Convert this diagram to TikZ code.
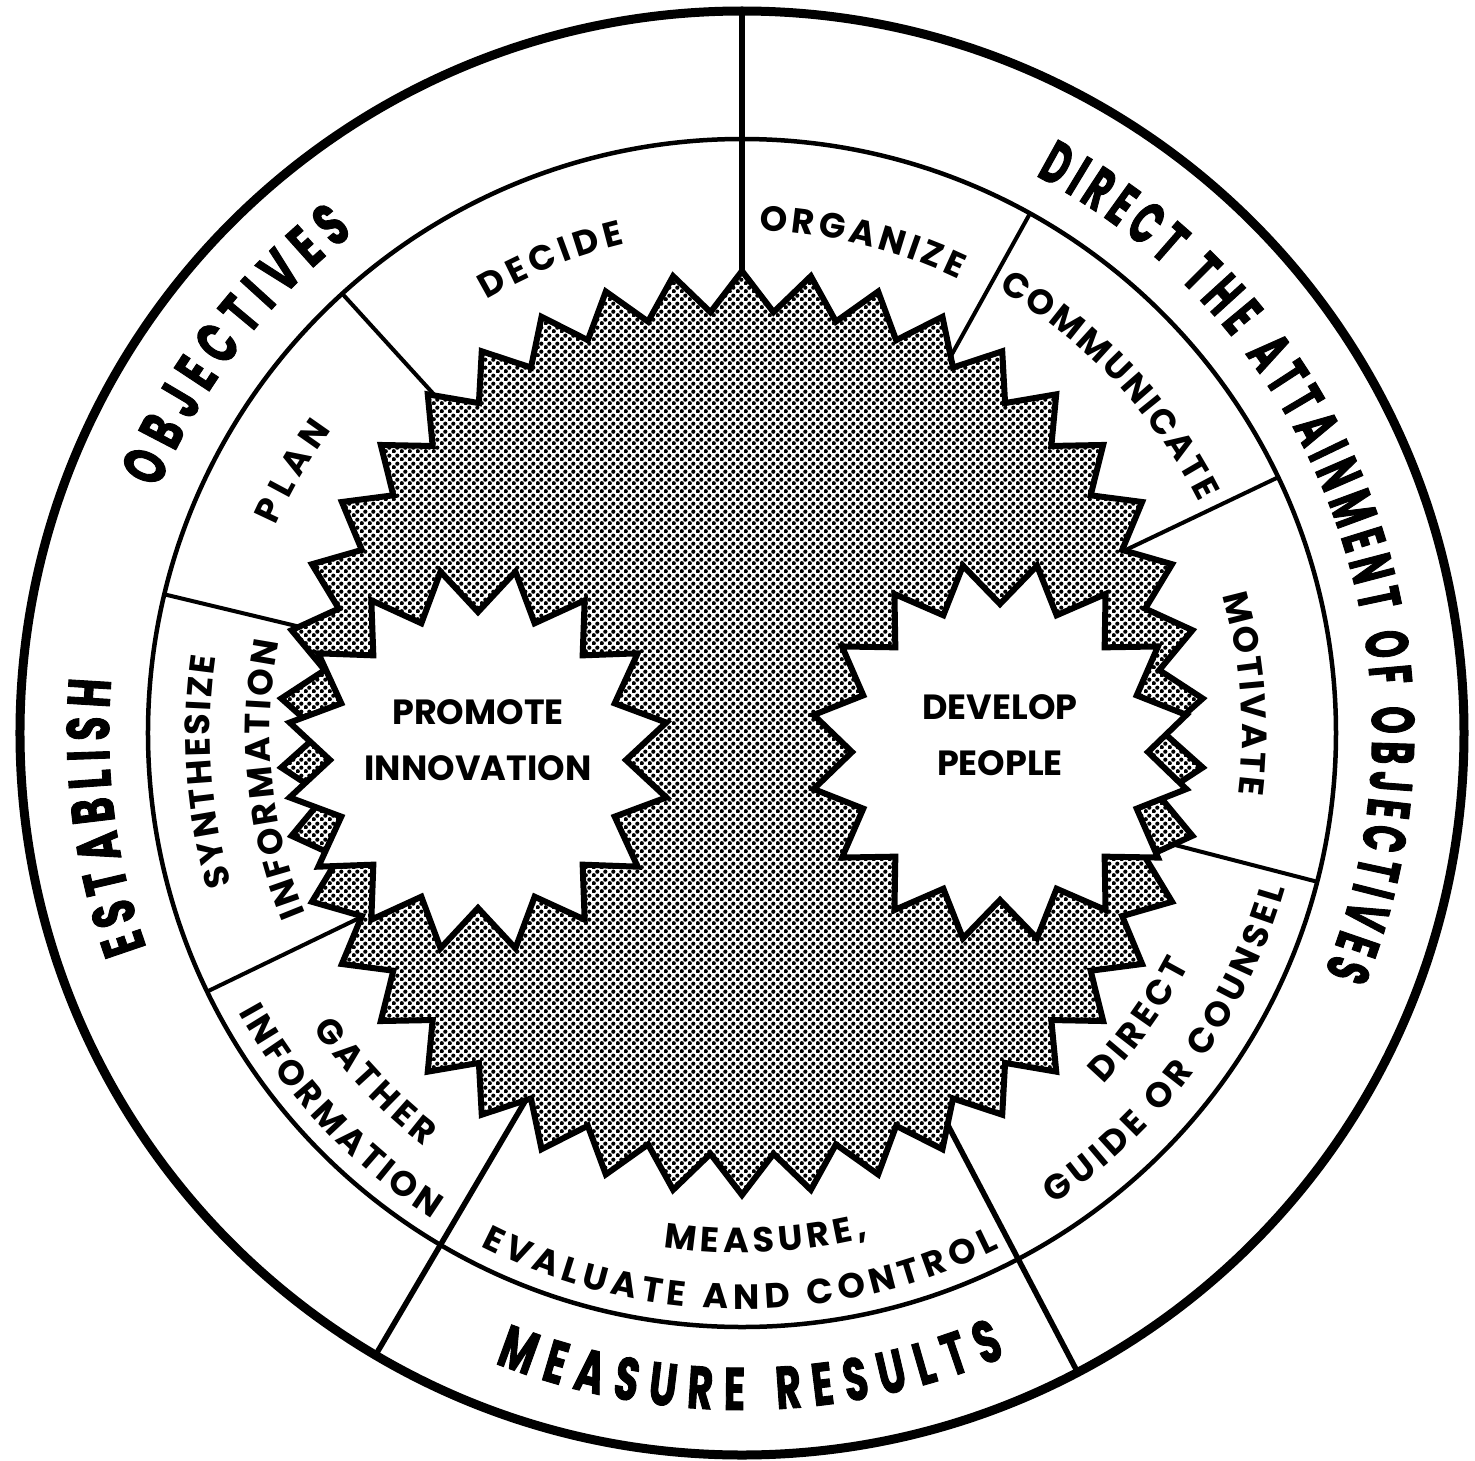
\documentclass[tikz,border=0pt]{standalone}
\usepackage{fontspec}
\setmainfont{Poppins}
\newfontfamily\ringfont{Poppins}[FakeStretch=0.65, FakeBold=1.5]
\newfontfamily\ringfontnarrow{Poppins}[FakeStretch=0.58, FakeBold=1.5]
\newfontfamily\lblfont{Poppins}
\usetikzlibrary{decorations.text,patterns.meta}
\newcommand\ringfmt{\ringfont\bfseries\fontsize{60}{60}\selectfont}
\newcommand\ringfmtn{\ringfontnarrow\bfseries\fontsize{60}{60}\selectfont}
\newcommand\lblfmt{\lblfont\bfseries\fontsize{35}{35}\selectfont}
\tikzdeclarepattern{
  name=halftone,
  type=uncolored,
  bounding box={(0pt,0pt) and (8pt,8pt)},
  tile size={(8pt,8pt)},
  code={
    \pgfpathcircle{\pgfqpoint{2pt}{2pt}}{2.35pt}
    \pgfpathcircle{\pgfqpoint{6pt}{6pt}}{2.35pt}
    \pgfusepath{fill}
  }
}
\tikzset{
  arctext/.style={decorate, decoration={text along path, text align=fit to path, text={#1}}},
  ringline/.style={line width=5.5},
  divline/.style={line width=4},
  burst/.style={line width=6, line join=miter},
  centerlabel/.style={font=\lblfont\bfseries\fontsize{35}{56}\selectfont, align=center}
}
\begin{document}
\begin{tikzpicture}[x=1pt,y=1pt]
\useasboundingbox[fill=white] (-742,-727) rectangle (733,733);
\coordinate (O) at (0,0);
% circles
\draw[line width=9] (O) circle[radius=722];
\draw[line width=4.5] (O) circle[radius=594];
% ring dividers
\draw[ringline] (90:722) -- (90:462);
\draw[ringline] (239.5:722) -- (239.5:400);
\draw[ringline] (297.7:722) -- (297.7:400);
% inner dividers
\foreach \a in {132.3,166.5,205.8,345.5,25.5,61}
  \draw[divline] (\a:594) -- (\a:400);
% big starburst
\draw[burst, preaction={fill=white}, pattern=halftone, pattern color=black]
  (90:462) \foreach \i in {1,...,42} { -- ({90+(\i-0.5)*360/42}:422) -- ({90+\i*360/42}:462) } -- cycle;
% small starbursts
\begin{scope}[shift={(-264,-27)}]
\draw[burst, fill=white]
  (101.25:192) \foreach \i in {1,...,16} { -- ({101.25+(\i-0.5)*22.5}:148) -- ({101.25+\i*22.5}:192) } -- cycle;
\end{scope}
\begin{scope}[shift={(258,-19)}]
\draw[burst, fill=white]
  (101.25:190) \foreach \i in {1,...,16} { -- ({101.25+(\i-0.5)*22.5}:148) -- ({101.25+\i*22.5}:190) } -- cycle;
\end{scope}
\node[centerlabel] (promote) at (-264,-7) {PROMOTE\\INNOVATION};
\node[centerlabel] (develop) at (258,-2) {DEVELOP\\PEOPLE};
% outer ring texts (clockwise, tops outward)
\path[arctext={|\ringfmt|ESTABLISH}] (199.8:633) arc[start angle=199.8, end angle=175.2, radius=633];
\path[arctext={|\ringfmt|OBJECTIVES}] (157.3:633) arc[start angle=157.3, end angle=127.9, radius=633];
\path[arctext={|\ringfmtn|DIRECT THE ATTAINMENT OF OBJECTIVES}] (62.2:630) arc[start angle=62.2, end angle=-22.3, radius=630];
% outer ring bottom (counterclockwise, tops inward)
\path[arctext={|\ringfmt|MEASURE RESULTS}] (248.6:677) arc[start angle=248.6, end angle=292.9, radius=677];
% inner ring texts, tops outward
\path[arctext={|\lblfmt|DECIDE}] (120.5:503) arc[start angle=120.5, end angle=103.5, radius=503];
\path[arctext={|\lblfmt|ORGANIZE}] (88:503) arc[start angle=88, end angle=64.5, radius=503];
\path[arctext={|\lblfmt|COMMUNICATE}] (60:512) arc[start angle=60, end angle=26.8, radius=512];
\path[arctext={|\lblfmt|MOTIVATE}] (16:500) arc[start angle=16, end angle=-7, radius=500];
\path[arctext={|\lblfmt|PLAN}] (156:510) arc[start angle=156, end angle=143.5, radius=510];
\path[arctext={|\lblfmt|SYNTHESIZE}] (196.5:532) arc[start angle=196.5, end angle=171.8, radius=532];
\path[arctext={|\lblfmt|INFORMATION}] (202.5:472) arc[start angle=202.5, end angle=168.8, radius=472];
% inner ring texts, tops inward
\path[arctext={|\lblfmt|MEASURE,}] (261.3:520) arc[start angle=261.3, end angle=284, radius=520];
\path[arctext={|\lblfmt|EVALUATE AND CONTROL}] (243:576) arc[start angle=243, end angle=296.5, radius=576];
\path[arctext={|\lblfmt|GATHER}] (214.5:521) arc[start angle=214.5, end angle=232.5, radius=521];
\path[arctext={|\lblfmt|INFORMATION}] (209:576) arc[start angle=209, end angle=237.5, radius=576];
\path[arctext={|\lblfmt|DIRECT}] (315.8:504) arc[start angle=315.8, end angle=332.5, radius=504];
\path[arctext={|\lblfmt|GUIDE OR COUNSEL}] (303.5:565) arc[start angle=303.5, end angle=344, radius=565];
\end{tikzpicture}
\end{document}
